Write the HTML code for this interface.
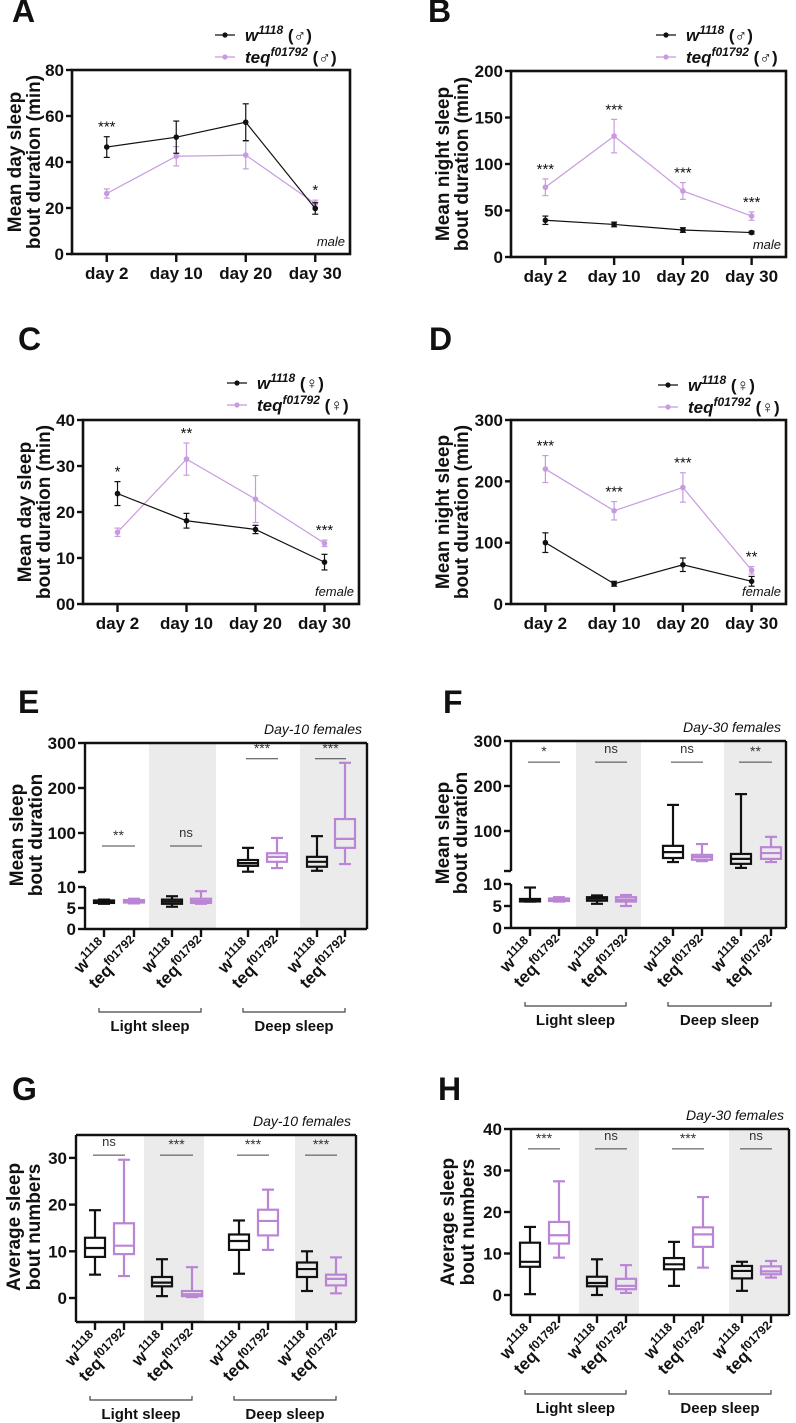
<!DOCTYPE html>
<html><head><meta charset="utf-8"><style>
html,body{margin:0;padding:0;background:#fff;}
svg{display:block;font-family:"Liberation Sans",Arial,sans-serif;}
</style></head><body>
<svg id="fig" width="796" height="1423" viewBox="0 0 796 1423" xmlns="http://www.w3.org/2000/svg"></svg>
<script>
// ---------- DATA ----------
const days = ["day 2","day 10","day 20","day 30"];
const A_w = [46.5, 50.8, 57.3, 19.8];
const A_wErr = [4.5, 7, 8, 2.5];
const A_teq = [26.3, 42.5, 43, 21.9];
const A_teqErr = [2, 4.2, 6, 1.5];
const A_stars = ["***","","","*"];
const A_ticks = [0,20,40,60,80];
const B_w = [39.5, 35, 29, 26.3];
const B_wErr = [4.5, 2.5, 2.5, 1.5];
const B_teq = [75, 130, 71, 44];
const B_teqErr = [9, 18, 9, 4.5];
const B_stars = ["***","***","***","***"];
const B_ticks = [0,50,100,150,200];
const C_w = [24, 18.1, 16.2, 9.1];
const C_wErr = [2.6, 1.6, 0.9, 1.7];
const C_teq = [15.6, 31.5, 22.8, 13.2];
const C_teqErr = [0.9, 3.5, 5.1, 0.7];
const C_stars = ["*","**","","***"];
const C_ticks = [0,10,20,30,40];
const C_tickLabels = ["00","10","20","30","40"];
const D_w = [100, 33, 64, 37];
const D_wErr = [16, 4, 11, 8];
const D_teq = [220, 152, 190, 55];
const D_teqErr = [22, 15, 24, 6];
const D_stars = ["***","***","***","**"];
const D_ticks = [0,100,200,300];
const E_boxes = [[6,6.2,6.5,6.8,7],[6.1,6.3,6.6,6.9,7.2],[5.3,6,6.5,7,7.8],[6,6.2,6.7,7.2,9],
  [14,27,33,40,67],[22,36,47,55,89],[16,25,36,47,93],[31,67,87,131,256]];
const E_sig = ["**","ns","***","***"];
const E_sigVal = [71,71,265,265];
const F_boxes = [[6,6.2,6.4,6.6,9.2],[6,6.2,6.4,6.7,7],[5.5,6.2,6.7,7,7.4],[5,6,6.4,7,7.5],
  [31,40,53,67,158],[33,36,42,47,71],[18,27,38,49,182],[31,38,51,64,87]];
const F_sig = ["*","ns","ns","**"];
const F_sigVal = [253,253,253,253];
const G_boxes = [[5,8.8,10.7,12.9,18.8],[4.7,9.4,11.2,16,29.6],[0.4,2.5,3.3,4.5,8.3],[0.2,0.4,0.8,1.5,6.6],
  [5.2,10.3,12.2,13.6,16.6],[10.3,13.4,16.5,18.9,23.2],[1.5,4.5,6.2,7.6,10],[1,2.7,4.1,5,8.7]];
const G_sig = ["ns","***","***","***"];
const G_sigVal = [30.6,30.6,30.6,30.6];
const G_ticks = [0,10,20,30];
const H_boxes = [[0.2,6.8,8,12.6,16.4],[9,12.4,14.4,17.6,27.4],[0,2.1,2.9,4.4,8.6],[0.5,1.4,2.2,3.9,7.2],
  [2.2,6.2,7.4,8.9,12.8],[6.6,11.6,14.6,16.3,23.6],[1,4,5.8,7,8],[4.2,5,5.7,6.9,8.2]];
const H_sig = ["***","ns","***","ns"];
const H_sigVal = [35.2,35.2,35.2,35.2];
const H_ticks = [0,10,20,30,40];
const groups = ["Light sleep","Deep sleep"];

// ---------- HELPERS ----------
const svg = document.getElementById('fig');
const NS = "http://www.w3.org/2000/svg";
const BLK = "#111", PUR = "#bb85d6", PURL = "#c89be0", GREY = "#ebebeb";
function mk(tag, attrs, parent){
  const e = document.createElementNS(NS, tag);
  for (const k in attrs) e.setAttribute(k, attrs[k]);
  (parent||svg).appendChild(e);
  return e;
}
function txt(x,y,s,size,opts,parent){
  const o = opts||{};
  const t = mk('text',{x:x,y:y,'font-size':size,'font-weight':o.w||'bold','text-anchor':o.a||'start',fill:o.fill||BLK,'font-style':o.i?'italic':'normal'},parent);
  if(o.tr) t.setAttribute('transform',o.tr);
  t.textContent = s;
  return t;
}
function supText(x,y,base,sup,tail,size,opts,parent){
  const o=opts||{};
  const t = mk('text',{x:x,y:y,'font-size':size,'font-weight':'bold','text-anchor':o.a||'start',fill:BLK,'font-style':o.i?'italic':'normal'},parent);
  if(o.tr) t.setAttribute('transform',o.tr);
  const a = mk('tspan',{},t); a.textContent = base;
  const b = mk('tspan',{'font-size':Math.round(size*0.68),dy:-size*0.42},t); b.textContent = sup;
  if (tail){ const c = mk('tspan',{dy:size*0.42,'font-style':'normal'},t); c.textContent = tail; }
  return t;
}
function panelLetter(x,y,s){
  const t = txt(x,y,s,32,{});
  
  
}
function yTitle(lines, xs, cy, name){
  const g = mk('g',{});
  
  
  lines.forEach((l,i)=>{ txt(0,0,l,19,{a:'middle',tr:`translate(${xs[i]},${cy}) rotate(-90)`},g); });
}

// ---------- LINE CHART ----------
function lineChart(c){
  const g = mk('g',{});
  
  
  const step = (c.r-c.l)/4;
  const X = i => c.l + (i+0.5)*step;
  const Y = v => c.b - (v/c.ymax)*(c.b-c.t);
  const series = [{v:c.teq,e:c.teqErr,col:PURL,n:'teq'},{v:c.w,e:c.wErr,col:BLK,n:'w1118'}];
  series.forEach(s=>{
    const sg = mk('g',{},g);
    
    
    const pts = s.v.map((v,i)=>X(i)+','+Y(v)).join(' ');
    mk('polyline',{points:pts,fill:'none',stroke:s.col,'stroke-width':1.2},sg);
    s.v.forEach((v,i)=>{
      const x=X(i);
      mk('line',{x1:x,x2:x,y1:Y(v-s.e[i]),y2:Y(v+s.e[i]),stroke:s.col,'stroke-width':1.2},sg);
      mk('line',{x1:x-3,x2:x+3,y1:Y(v-s.e[i]),y2:Y(v-s.e[i]),stroke:s.col,'stroke-width':1.2},sg);
      mk('line',{x1:x-3,x2:x+3,y1:Y(v+s.e[i]),y2:Y(v+s.e[i]),stroke:s.col,'stroke-width':1.2},sg);
      const p = mk('circle',{cx:x,cy:Y(v),r:2.8,fill:s.col},sg);
      
      
    });
  });
  c.stars.forEach((s,i)=>{
    if(!s) return;
    const top = Math.max(c.w[i]+c.wErr[i], c.teq[i]+c.teqErr[i]);
    const t = txt(X(i), Y(top)-5, s, 15, {a:'middle',w:'normal'}, g);
    
    
  });
  const fr = mk('rect',{x:c.l,y:c.t,width:c.r-c.l,height:c.b-c.t,fill:'none',stroke:BLK,'stroke-width':2.6},g);
  
  
  c.ticks.forEach((v,i)=>{
    mk('line',{x1:c.l-6,x2:c.l,y1:Y(v),y2:Y(v),stroke:BLK,'stroke-width':2.4},g);
    const t = txt(c.l-8, Y(v)+6, c.tickLabels?c.tickLabels[i]:String(v), 17, {a:'end'}, g);
    
    
  });
  days.forEach((d,i)=>{
    mk('line',{x1:X(i),x2:X(i),y1:c.b,y2:c.b+8,stroke:BLK,'stroke-width':2.4},g);
    const t = txt(X(i), c.b+25, d, 17, {a:'middle'}, g);
    
    
  });
  const sx = txt(c.r-5, c.b-8, c.sex, 13, {a:'end',w:'normal',i:true}, g);
  
  
  const sym = c.sex==='male' ? '\u2642' : '\u2640';
  [[BLK,'w','1118'],[PURL,'teq','f01792']].forEach((L,k)=>{
    const lg = mk('g',{},g);
    
    
    const y = c.legY + k*22;
    mk('line',{x1:c.legX,x2:c.legX+20,y1:y,y2:y,stroke:L[0],'stroke-width':1.3},lg);
    mk('circle',{cx:c.legX+10,cy:y,r:2.6,fill:L[0]},lg);
    supText(c.legX+30, y+6, L[1], L[2], ' ('+sym+')', 17, {i:true}, lg);
  });
}

// ---------- BOX CHART ----------
function boxChart(c){
  const g = mk('g',{});
  
  
  const Y = c.Y;
  c.bands.forEach(b=>{
    const r = mk('rect',{x:b[0],y:c.t,width:b[1]-b[0],height:c.b-c.t,fill:GREY},g);
    
    
  });
  c.boxes.forEach((bx,i)=>{
    const col = i%2===0 ? BLK : PUR;
    const x = c.cx[i], hw = 10;
    const bg = mk('g',{},g);
    
    
    const [mn,q1,md,q3,mxv] = bx;
    mk('line',{x1:x,x2:x,y1:Y(mn),y2:Y(mxv),stroke:col,'stroke-width':2.2},bg);
    mk('line',{x1:x-6,x2:x+6,y1:Y(mn),y2:Y(mn),stroke:col,'stroke-width':2.2},bg);
    mk('line',{x1:x-6,x2:x+6,y1:Y(mxv),y2:Y(mxv),stroke:col,'stroke-width':2.2},bg);
    mk('rect',{x:x-hw,y:Y(q3),width:hw*2,height:Math.max(Y(q1)-Y(q3),2.5),fill:(c.bandOf(i)?GREY:'#fff'),stroke:col,'stroke-width':2.2},bg);
    mk('line',{x1:x-hw,x2:x+hw,y1:Y(md),y2:Y(md),stroke:col,'stroke-width':2.2},bg);
  });
  c.sig.forEach((s,k)=>{
    const x1 = c.cx[2*k]-2, x2 = c.cx[2*k+1]+1, y = Y(c.sigVal[k]);
    const sg = mk('g',{},g);
    
    
    mk('line',{x1:x1,x2:x2,y1:y,y2:y,stroke:'#444','stroke-width':1},sg);
    txt((x1+x2)/2, y-(s==='ns'?9:6), s, s==='ns'?13:14, {a:'middle',w:'normal',fill:'#333'}, sg);
  });
  mk('line',{x1:c.l,x2:c.r,y1:c.t,y2:c.t,stroke:BLK,'stroke-width':2.4},g);
  mk('line',{x1:c.r,x2:c.r,y1:c.t,y2:c.b,stroke:BLK,'stroke-width':2.4},g);
  mk('line',{x1:c.l,x2:c.r,y1:c.b,y2:c.b,stroke:BLK,'stroke-width':2.4},g);
  const ax = mk('g',{},g);
  
  
  c.axisSegs.forEach(s=> mk('line',{x1:c.l,x2:c.l,y1:s[0],y2:s[1],stroke:BLK,'stroke-width':2.4},ax));
  c.ticks.forEach(v=>{
    mk('line',{x1:c.l-7,x2:c.l,y1:Y(v),y2:Y(v),stroke:BLK,'stroke-width':2.4},ax);
    txt(c.l-9, Y(v)+6, String(v), 17, {a:'end'}, ax);
  });
  (c.extraTicks||[]).forEach(y=> mk('line',{x1:c.l-7,x2:c.l,y1:y,y2:y,stroke:BLK,'stroke-width':2.4},ax));
  c.cx.forEach((x,i)=>{
    mk('line',{x1:x,x2:x,y1:c.b,y2:c.b+8,stroke:BLK,'stroke-width':2.4},g);
    const isW = i%2===0;
    const t = supText(0,0,isW?'w':'teq',isW?'1118':'f01792',null,17,{a:'end',tr:`translate(${x+(isW?4:6)},${c.b+(isW?18:16)}) rotate(-45)`},g);
    
    
  });
  groups.forEach((gname,k)=>{
    const x1 = c.cx[k*4]-5, x2 = c.cx[k*4+3];
    const bg = mk('g',{},g);
    
    
    mk('polyline',{points:`${x1},${c.brY-4} ${x1},${c.brY} ${x2},${c.brY} ${x2},${c.brY-4}`,fill:'none',stroke:'#444','stroke-width':1.2},bg);
    txt((x1+x2)/2, c.brY+19, gname, 15, {a:'middle'}, bg);
  });
  const n = txt(c.r-5, c.t-9, c.note, 14, {a:'end',w:'normal',i:true}, g);
  
  
}

// ---------- BUILD ----------
panelLetter(12,22,'A'); panelLetter(428,22,'B'); panelLetter(18,350,'C'); panelLetter(429,350,'D');
panelLetter(18,713,'E'); panelLetter(443,713,'F'); panelLetter(12,1100,'G'); panelLetter(438,1100,'H');

lineChart({name:'chart-a-male-day',l:72,r:350,t:70,b:254,ymax:80,ticks:A_ticks,w:A_w,wErr:A_wErr,teq:A_teq,teqErr:A_teqErr,stars:A_stars,sex:'male',legX:215,legY:35});
yTitle(['Mean day sleep','bout duration (min)'],[21,40],162,'y-axis-title-a');
lineChart({name:'chart-b-male-night',l:511,r:786,t:71,b:257,ymax:200,ticks:B_ticks,w:B_w,wErr:B_wErr,teq:B_teq,teqErr:B_teqErr,stars:B_stars,sex:'male',legX:656,legY:35});
yTitle(['Mean night sleep','bout duration (min)'],[449,468],164,'y-axis-title-b');
lineChart({name:'chart-c-female-day',l:83,r:359,t:420,b:604,ymax:40,ticks:C_ticks,tickLabels:C_tickLabels,w:C_w,wErr:C_wErr,teq:C_teq,teqErr:C_teqErr,stars:C_stars,sex:'female',legX:227,legY:383});
yTitle(['Mean day sleep','bout duration (min)'],[31,50],512,'y-axis-title-c');
lineChart({name:'chart-d-female-night',l:511,r:786,t:420,b:604,ymax:300,ticks:D_ticks,w:D_w,wErr:D_wErr,teq:D_teq,teqErr:D_teqErr,stars:D_stars,sex:'female',legX:658,legY:385});
yTitle(['Mean night sleep','bout duration (min)'],[449,468],512,'y-axis-title-d');

function brokenY(lower0,lk,y100,uk){ return v => v<=10 ? lower0 - v*lk : y100 - (v-100)*uk; }
const eY = brokenY(929,4.2,833,0.45);
boxChart({name:'chart-e-duration-day10',l:85,r:367,t:743,b:929,Y:eY,boxes:E_boxes,sig:E_sig,sigVal:E_sigVal,
  cx:[104,134,172,201,248,277,317,345],bands:[[149,216],[300,367]],bandOf:i=>i===2||i===3||i>=6,
  axisSegs:[[743,872],[887,929]],ticks:[0,5,10,100,200,300],extraTicks:[872],brY:1012,note:'Day-10 females'});
yTitle(['Mean sleep','bout duration'],[23,42],835,'y-axis-title-e');
const fY = brokenY(928,4.4,831,0.45);
boxChart({name:'chart-f-duration-day30',l:511,r:786,t:741,b:928,Y:fY,boxes:F_boxes,sig:F_sig,sigVal:F_sigVal,
  cx:[530,559,597,626,673,702,741,771],bands:[[576,641],[724,786]],bandOf:i=>i===2||i===3||i>=6,
  axisSegs:[[741,871],[884,928]],ticks:[0,5,10,100,200,300],extraTicks:[871],brY:1006,note:'Day-30 females'});
yTitle(['Mean sleep','bout duration'],[449,467],833,'y-axis-title-f');
const gY = v => 1298 - v*4.67;
boxChart({name:'chart-g-numbers-day10',l:76,r:356,t:1135,b:1322,Y:gY,boxes:G_boxes,sig:G_sig,sigVal:G_sigVal,
  cx:[95,124,162,192,239,268,307,336],bands:[[144,204],[295,356]],bandOf:i=>i===2||i===3||i>=6,
  axisSegs:[[1135,1322]],ticks:G_ticks,brY:1400,note:'Day-10 females'});
yTitle(['Average sleep','bout numbers'],[20,40],1227,'y-axis-title-g');
const hY = v => 1295 - v*4.15;
boxChart({name:'chart-h-numbers-day30',l:511,r:789,t:1129,b:1315,Y:hY,boxes:H_boxes,sig:H_sig,sigVal:H_sigVal,
  cx:[530,559,597,626,674,703,742,771],bands:[[579,639],[729,789]],bandOf:i=>i===2||i===3||i>=6,
  axisSegs:[[1129,1315]],ticks:H_ticks,brY:1394,note:'Day-30 females'});
yTitle(['Average sleep','bout numbers'],[454,474],1222,'y-axis-title-h');
</script>
</body></html>
